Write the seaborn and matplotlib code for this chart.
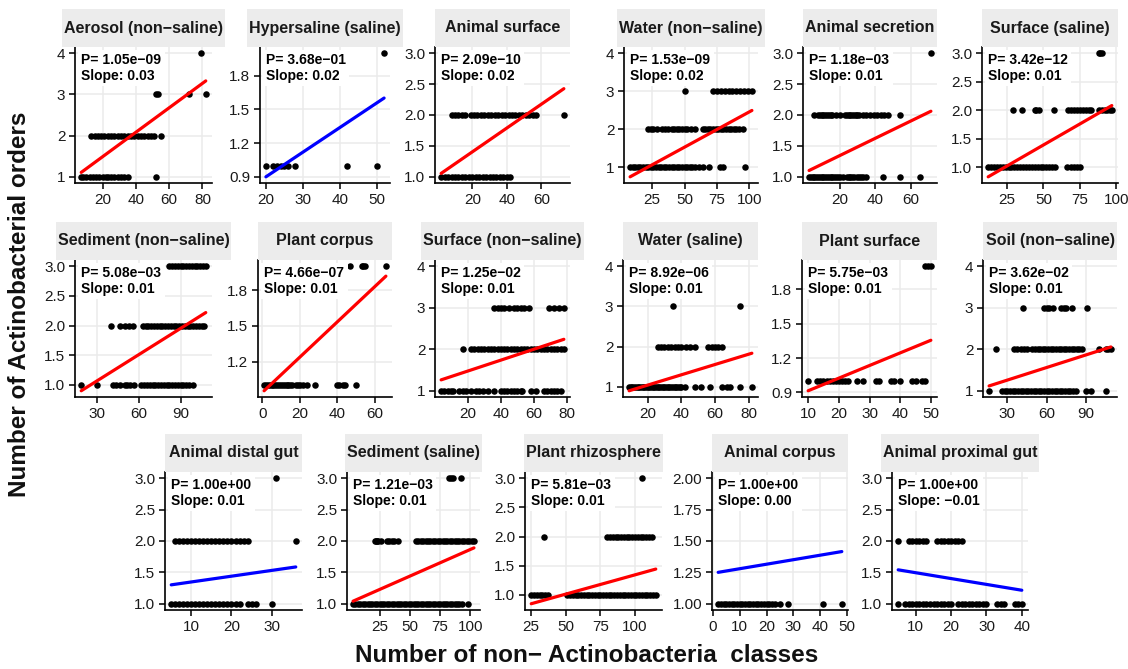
import matplotlib
matplotlib.use("Agg")
import matplotlib.pyplot as plt
import pandas as pd
import seaborn as sns
from matplotlib.patches import Rectangle

# ---------------- data ----------------
titles = ["Aerosol (non-saline)", "Hypersaline (saline)", "Animal surface", "Water (non-saline)",
          "Animal secretion", "Surface (saline)", "Sediment (non-saline)", "Plant corpus",
          "Surface (non-saline)", "Water (saline)", "Plant surface", "Soil (non-saline)",
          "Animal distal gut", "Sediment (saline)", "Plant rhizosphere", "Animal corpus",
          "Animal proximal gut"]
p_values = ["1.05e-09", "3.68e-01", "2.09e-10", "1.53e-09", "1.18e-03", "3.42e-12",
            "5.08e-03", "4.66e-07", "1.25e-02", "8.92e-06", "5.75e-03", "3.62e-02",
            "1.00e+00", "1.21e-03", "5.81e-03", "1.00e+00", "1.00e+00"]
slope_labels = ["0.03", "0.02", "0.02", "0.02", "0.01", "0.01", "0.01", "0.01", "0.01",
                "0.01", "0.01", "0.01", "0.01", "0.01", "0.01", "0.00", "-0.01"]
fit_intercepts = [0.90, 0.462, 1.017, 0.594, 1.06, 0.656, 0.621, 0.94, 1.21, 0.785,
                  0.805, 0.955, 1.255, 1.015, 0.685, 1.243, 1.587]
fit_slopes = [0.0296, 0.0219, 0.0193, 0.0186, 0.0141, 0.0147, 0.0148, 0.0148, 0.0132,
              0.0128, 0.0110, 0.0101, 0.0092, 0.0085, 0.0066, 0.0036, -0.0093]
label_tops = [4, 2, 3, 4, 3, 3, 3, 2, 4, 4, 2, 4, 3, 3, 3, 2, 3]
x_tick_labels = [["20", "40", "60", "80"], ["20", "30", "40", "50"], ["20", "40", "60"],
                 ["25", "50", "75", "100"], ["20", "40", "60"], ["25", "50", "75", "100"],
                 ["30", "60", "90"], ["0", "20", "40", "60"], ["20", "40", "60", "80"],
                 ["20", "40", "60", "80"], ["10", "20", "30", "40", "50"], ["30", "60", "90"],
                 ["10", "20", "30"], ["25", "50", "75", "100"], ["25", "50", "75", "100"],
                 ["0", "10", "20", "30", "40", "50"], ["10", "20", "30", "40"]]
y_tick_labels = [["1", "2", "3", "4"], ["0.9", "1.2", "1.5", "1.8"],
                 ["1.0", "1.5", "2.0", "2.5", "3.0"], ["1", "2", "3", "4"],
                 ["1.0", "1.5", "2.0", "2.5", "3.0"], ["1.0", "1.5", "2.0", "2.5", "3.0"],
                 ["1.0", "1.5", "2.0", "2.5", "3.0"], ["1.2", "1.5", "1.8"],
                 ["1", "2", "3", "4"], ["1", "2", "3", "4"], ["0.9", "1.2", "1.5", "1.8"],
                 ["1", "2", "3", "4"], ["1.0", "1.5", "2.0", "2.5", "3.0"],
                 ["1.0", "1.5", "2.0", "2.5", "3.0"], ["1.0", "1.5", "2.0", "2.5", "3.0"],
                 ["1.00", "1.25", "1.50", "1.75", "2.00"], ["1.0", "1.5", "2.0", "2.5", "3.0"]]

# x values (non-Actinobacteria classes) of points at each y level (Actinobacterial orders)
pts_aerosol = {1: [7, 8, 10, 12, 14, 16, 18, 20, 22, 23, 25, 27, 29, 31, 33, 35, 52],
               2: [13, 15, 17, 19, 21, 23, 25, 27, 29, 31, 33, 35, 37, 39, 41, 43, 45, 47, 49, 51, 55],
               3: [52, 53, 72, 82], 4: [79]}
pts_hypersaline = {1: [20, 22, 23, 24, 25, 26, 28, 42, 50], 2: [52]}
pts_animal_surface = {1: [2, 4, 6, 8, 10, 12, 14, 16, 18, 20, 22, 24, 26, 28, 30, 32, 34, 36, 38, 40, 42],
                      2: [8, 10, 12, 14, 16, 19, 21, 23, 25, 27, 29, 31, 33, 35, 37, 39, 41, 43, 45,
                          47, 49, 51, 53, 55, 57, 73]}
pts_water_ns = {1: [8, 10, 12, 14, 16, 18, 20, 22, 24, 26, 28, 30, 32, 34, 36, 38, 40, 42, 44, 46,
                    48, 50, 52, 54, 56, 58, 61, 64, 69, 77, 80, 97],
                2: [22, 24, 26, 29, 33, 35, 37, 40, 42, 44, 46, 48, 50, 52, 55, 58, 64, 66, 68, 70,
                    72, 74, 76, 78, 80, 82, 84, 86, 88, 90, 92, 95],
                3: [50, 72, 75, 78, 81, 84, 87, 90, 93, 96, 99, 102]}
pts_animal_secretion = {1: [3, 4, 5, 6, 7, 8, 9, 10, 11, 12, 13, 14, 15, 16, 17, 18, 19, 20, 22, 24,
                            25, 26, 27, 28, 30, 31, 32, 33, 35, 44, 54, 65],
                        2: [6, 8, 9, 10, 11, 12, 13, 14, 15, 16, 18, 20, 23, 24, 25, 26, 27, 28, 29,
                            30, 31, 33, 35, 37, 39, 41, 43, 45, 47, 54],
                        3: [71]}
pts_surface_s = {1: [12, 14, 16, 18, 20, 22, 24, 26, 28, 30, 32, 34, 36, 38, 40, 42, 44, 46, 48, 50,
                     52, 54, 56, 58, 66, 69, 71, 73, 75],
                 2: [29, 35, 44, 45, 47, 57, 67, 69, 71, 73, 75, 77, 79, 81, 83, 88, 90, 92, 94, 96, 97],
                 3: [88, 89, 90]}
pts_sediment_ns = {1: [19, 30, 42, 44, 47, 50, 52, 54, 57, 62, 64, 66, 68, 70, 72, 74, 76, 78, 80,
                       82, 84, 86, 88, 90, 92, 94, 96, 99],
                   2: [40, 47, 50, 53, 56, 63, 65, 67, 69, 71, 73, 75, 77, 79, 81, 83, 85, 87, 89,
                       91, 93, 95, 97, 99, 101, 103, 105, 107],
                   3: [82, 84, 86, 88, 90, 92, 94, 96, 98, 100, 102, 104, 106, 108]}
pts_plant_corpus = {1: [1, 2, 3, 4, 5, 6, 7, 8, 9, 10, 11, 12, 13, 14, 15, 16, 18, 19, 20, 22, 24,
                        28, 40, 41, 43, 44, 50],
                    2: [47, 53, 54, 55, 66]}
pts_surface_ns = {1: [4, 6, 8, 10, 11, 15, 17, 19, 22, 25, 27, 29, 32, 36, 40, 42, 44, 46, 48, 50,
                      52, 53, 58, 61, 66, 68, 70, 72, 74, 76],
                  2: [17, 22, 24, 26, 28, 30, 32, 34, 36, 38, 40, 42, 44, 46, 48, 50, 52, 54, 56,
                      58, 60, 62, 64, 66, 68, 70, 72, 74, 76, 78],
                  3: [36, 38, 40, 42, 45, 48, 50, 52, 54, 57, 69, 72, 75, 78]}
pts_water_s = {1: [9, 10, 11, 12, 13, 14, 15, 16, 17, 18, 19, 20, 21, 22, 23, 24, 25, 26, 27, 28,
                   29, 30, 31, 32, 33, 34, 35, 36, 37, 38, 39, 40, 42, 48, 52, 57, 64, 67, 69, 75, 82],
               2: [26, 28, 30, 32, 34, 36, 38, 40, 43, 45, 48, 56, 58, 60, 62, 64],
               3: [35, 75]}
pts_plant_surface = {1: [10, 13, 14, 15, 16, 17, 18, 19, 20, 21, 22, 23, 26, 28, 32, 33, 37, 38,
                         40, 44, 45, 47, 48],
                     2: [48, 49, 50]}
pts_soil = {1: [16, 26, 28, 30, 32, 34, 36, 38, 40, 42, 44, 46, 48, 50, 52, 54, 56, 58, 60, 62, 64,
                66, 68, 70, 72, 74, 76, 78, 80, 82, 90, 94, 105],
            2: [21, 35, 37, 40, 43, 45, 49, 51, 53, 55, 57, 59, 61, 63, 65, 67, 69, 71, 73, 75, 77,
                79, 81, 83, 85, 87, 100, 105, 107, 109],
            3: [42, 58, 60, 62, 65, 71, 73, 75, 79, 91]}
pts_distal_gut = {1: [5, 6, 7, 8, 9, 10, 11, 12, 13, 14, 15, 16, 17, 18, 19, 20, 21, 22, 24, 25, 26, 30],
                  2: [6, 7, 8, 9, 10, 11, 12, 13, 14, 15, 16, 17, 18, 19, 20, 21, 22, 23, 24, 36],
                  3: [31]}
pts_sediment_s = {1: [3, 5, 7, 9, 11, 13, 15, 17, 19, 21, 23, 25, 27, 29, 31, 33, 35, 37, 39, 41,
                      43, 45, 47, 49, 51, 53, 55, 57, 59, 61, 63, 65, 67, 69, 71, 73, 75, 77, 79,
                      81, 83, 85, 87, 89, 91, 93, 98],
                  2: [21, 22, 23, 24, 26, 31, 33, 35, 37, 40, 55, 57, 59, 61, 63, 65, 67, 69, 71,
                      73, 75, 77, 79, 81, 83, 85, 87, 89, 91, 93, 95, 97, 99, 101, 103],
                  3: [82, 84, 86, 92]}
pts_rhizosphere = {1: [25, 27, 29, 31, 33, 35, 37, 51, 53, 55, 57, 59, 61, 63, 65, 67, 69, 71, 73,
                       75, 77, 79, 81, 83, 85, 87, 89, 91, 93, 95, 97, 99, 101, 103, 105, 107, 109,
                       111, 113, 115],
                   2: [34, 80, 82, 84, 86, 88, 90, 92, 94, 96, 98, 100, 102, 104, 106, 108, 110, 112],
                   3: [105]}
pts_animal_corpus = {1: [2, 3, 4, 5, 6, 7, 8, 9, 10, 11, 12, 13, 14, 15, 16, 17, 18, 19, 20, 21,
                         22, 23, 25, 28, 41, 48]}
pts_proximal_gut = {1: [5, 7, 8, 9, 10, 11, 12, 13, 14, 15, 16, 17, 18, 19, 20, 22, 23, 24, 25,
                        26, 27, 28, 29, 30, 33, 34, 35, 38, 39, 40],
                    2: [5, 8, 9, 10, 11, 12, 13, 16, 17, 18, 19, 20, 21, 22, 23]}

panel_points = [pts_aerosol, pts_hypersaline, pts_animal_surface, pts_water_ns,
                pts_animal_secretion, pts_surface_s, pts_sediment_ns, pts_plant_corpus,
                pts_surface_ns, pts_water_s, pts_plant_surface, pts_soil, pts_distal_gut,
                pts_sediment_s, pts_rhizosphere, pts_animal_corpus, pts_proximal_gut]

x_label = "Number of non- Actinobacteria  classes"
y_label = "Number of Actinobacterial orders"

# ---------------- layout (pixels) ----------------
W, H = 1128, 669
row_tb = [(47, 183), (260, 397), (472, 610)]
row_lr = [[(75, 212), (260, 390), (435, 570), (624, 758), (803, 937), (982, 1118)],
          [(75, 212), (258, 392), (435, 570), (623, 758), (802, 937), (983, 1117)],
          [(165, 302), (347, 480), (525, 662), (712, 848), (892, 1028)]]
strip_h = 38

sns.set_style("white")
plt.rcParams["font.family"] = ["Liberation Sans", "DejaVu Sans"]


def mm(s):
    return s.replace("-", "\u2212")


fig = plt.figure(figsize=(W / 100, H / 100), dpi=100)
renderer = fig.canvas.get_renderer()

idx = 0
for r, lrs in enumerate(row_lr):
    top, bot = row_tb[r]
    for (l, rr) in lrs:
        ax = fig.add_axes([l / W, 1 - bot / H, (rr - l) / W, (bot - top) / H])
        pts = panel_points[idx]
        xs, ys = [], []
        for lvl, vals in pts.items():
            xs += vals
            ys += [lvl] * len(vals)
        df = pd.DataFrame({"x": xs, "y": ys})
        xmin, xmax = df["x"].min(), df["x"].max()
        line_df = pd.DataFrame({"x": [xmin, xmax],
                                "y": [fit_intercepts[idx] + fit_slopes[idx] * xmin,
                                      fit_intercepts[idx] + fit_slopes[idx] * xmax]})
        pval = float(p_values[idx])
        col = "#ff0000" if pval < 0.05 else "#0000ff"

        sns.scatterplot(data=df, x="x", y="y", ax=ax, color="black", s=22,
                        linewidth=0, legend=False, zorder=3)
        sns.lineplot(data=line_df, x="x", y="y", ax=ax, color=col, linewidth=2.3,
                     zorder=4, legend=False)

        # limits with 5% expansion (ggplot-like), including label position
        ylo = min(df["y"].min(), line_df["y"].min())
        yhi = max(df["y"].max(), line_df["y"].max(), label_tops[idx])
        yr = yhi - ylo
        ax.set_ylim(ylo - 0.05 * yr, yhi + 0.05 * yr)
        xr = xmax - xmin
        ax.set_xlim(xmin - 0.05 * xr, xmax + 0.05 * xr)

        ax.set_xticks([float(t) for t in x_tick_labels[idx]])
        ax.set_xticklabels(x_tick_labels[idx])
        ax.set_yticks([float(t) for t in y_tick_labels[idx]])
        ax.set_yticklabels(y_tick_labels[idx])
        ax.set_xlabel("")
        ax.set_ylabel("")
        ax.grid(True, color="#ebebeb", linewidth=1.1)
        ax.set_axisbelow(True)
        for s in ["top", "right"]:
            ax.spines[s].set_visible(False)
        for s in ["left", "bottom"]:
            ax.spines[s].set_color("black")
            ax.spines[s].set_linewidth(1.2)
        ax.tick_params(axis="both", which="major", length=4, width=1.1, color="black",
                       labelsize=11, labelcolor="#1a1a1a", pad=3, bottom=True, left=True)

        # annotation
        ax.text(xmin, label_tops[idx],
                "P= " + mm(p_values[idx]) + "\nSlope: " + mm(slope_labels[idx]),
                ha="left", va="top", fontsize=10, fontweight="bold", color="black",
                linespacing=1.15, zorder=6,
                bbox=dict(facecolor="white", edgecolor="none", pad=2.5))

        # strip
        cx = (l + rr) / 2
        t = fig.text(cx / W, 1 - (top - strip_h / 2) / H, mm(titles[idx]), ha="center",
                     va="center", fontsize=11.5, fontweight="bold", color="#1a1a1a", zorder=5)
        tw = t.get_window_extent(renderer).width
        sw = max(rr - l, tw + 4)
        fig.patches.append(Rectangle(((cx - sw / 2) / W, 1 - top / H), sw / W, strip_h / H,
                                     transform=fig.transFigure, facecolor="#ececec",
                                     edgecolor="none", zorder=1))
        idx += 1

fig.text(20 / W, 1 - 304 / H, y_label, rotation=90, ha="center", va="center",
         fontsize=17.5, fontweight="bold", color="#111111")
fig.text(587 / W, 1 - 656 / H, mm(x_label), ha="center", va="center",
         fontsize=17.5, fontweight="bold", color="#111111")

fig.savefig("out.png", dpi=100)
